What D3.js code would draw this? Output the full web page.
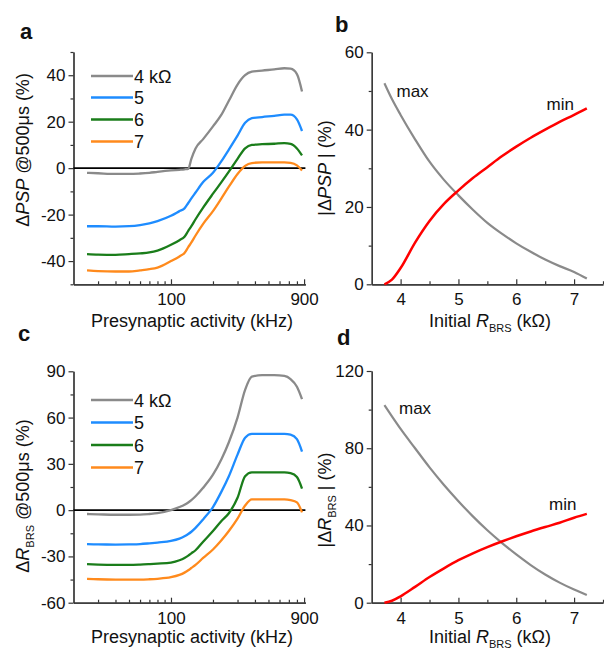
<!DOCTYPE html>
<html>
<head>
<meta charset="utf-8">
<script src="https://cdn.jsdelivr.net/npm/d3@7"></script>
<style>
body { margin: 0; background: #fff; }
svg { font-family: "Liberation Sans", Arial, sans-serif; }
</style>
</head>
<body>
<svg id="fig" width="604" height="650"></svg>
<script>
// presynaptic activity (kHz) for panels a and c
const freq = [25, 30, 40, 50, 60, 70, 80, 100, 115, 125, 133, 140, 150, 170, 200, 230, 260, 300, 340, 380, 450, 550, 650, 720, 800, 870];
const seriesNames = ['4 k\u03A9', '5', '6', '7'];
const seriesColors = ['#8a8a8a', '#1e8cff', '#1a7d1a', '#ff8a1c'];

// panel a: dPSP @500us (%)
const psp4 = [-2.0, -2.2, -2.5, -2.5, -2.3, -2.0, -1.6, -1.0, -0.7, -0.5, -0.3, 4, 8.5, 12.5, 18, 23, 29, 36, 40, 41.5, 42, 42.5, 43, 42.8, 40.5, 33];
const psp5 = [-25, -25, -25.2, -25, -24.5, -23.8, -22.8, -20.5, -18.5, -17.3, -15, -13, -10.5, -6, -2, 3, 8, 14, 19.5, 21.5, 22, 22.5, 23, 23, 21, 16];
const psp6 = [-37, -37.2, -37.3, -37, -36.7, -36.3, -35.5, -33, -31, -29.5, -27, -25, -22, -17, -11, -6, -1.5, 4, 8.5, 10, 10.3, 10.5, 10.8, 10.5, 8.5, 5.5];
const psp7 = [-44, -44.3, -44.5, -44.5, -44, -43.5, -42.8, -40, -38, -36.5, -34, -32, -29, -24, -18.5, -13, -8, -2.5, 1, 2.2, 2.5, 2.5, 2.5, 2.3, 1.2, -1];

// panel c: dR_BRS @500us (%)
const rbrs4 = [-2.5, -2.7, -3, -3, -2.9, -2.5, -2, 0, 2, 3.5, 5, 6.5, 9, 14.5, 23, 33, 44, 60, 78, 86.5, 87.5, 87.5, 87, 85, 80, 72];
const rbrs5 = [-22, -22.2, -22.3, -22.2, -22, -21.5, -21, -20, -18.5, -17, -15.5, -14, -11.5, -6, 2, 12, 22, 36, 47, 49.5, 49.5, 49.5, 49.5, 49, 46, 38];
const rbrs6 = [-35, -35.3, -35.5, -35.5, -35.3, -35, -34.7, -34, -32.5, -31, -29.5, -28, -26, -20.5, -13.5, -7, -2, 8, 22, 24.5, 24.5, 24.5, 24.5, 24, 21.5, 14];
const rbrs7 = [-44.5, -44.8, -45, -45, -45, -44.8, -44.5, -43.5, -42, -40.5, -39, -37.5, -35.5, -31, -25.5, -19.5, -13.5, -5.5, 3, 7, 7, 7, 7, 6.5, 5, -1.5];

// panels b and d: initial R_BRS (kOhm)
const rInit = [3.72, 3.85, 4.0, 4.25, 4.5, 4.75, 5.0, 5.25, 5.5, 5.75, 6.0, 6.25, 6.5, 6.75, 7.0, 7.22];
const pspMax = [52, 47.9, 43.8, 37.5, 31.7, 27, 23, 19.3, 15.9, 13.1, 10.6, 8.4, 6.4, 4.7, 3.2, 1.5];
const pspMin = [0, 1.2, 4.2, 10.8, 16.4, 20.8, 24.3, 27.5, 30.3, 33.1, 35.6, 37.9, 40, 42, 43.8, 45.5];
const rbrsMax = [102.3, 96.5, 90, 80, 70.1, 61, 52.6, 44.7, 37.5, 31, 25, 19.5, 14.6, 10.4, 6.8, 4];
const rbrsMin = [0, 1, 3.3, 8.2, 13.3, 17.8, 22, 25.6, 28.8, 31.7, 34.4, 36.9, 39.2, 41.4, 44, 46];

const freqMajor = [100, 900];
const freqMinor = [30, 40, 50, 60, 70, 80, 90, 200, 300, 400, 500, 600, 700, 800];

const svg = d3.select('#fig');
svg.append('rect').attr('width', 604).attr('height', 650).attr('fill', '#fff');

const axisColor = '#333';
const plainNum = d => String(d);   // keep an ASCII hyphen for negatives

function styleAxis(g) {
    g.selectAll('.domain, .tick line').attr('stroke', axisColor).attr('stroke-width', 1.2);
    g.selectAll('text').attr('fill', '#111').style('font-size', '17px')
        .style('font-family', '"Liberation Sans", Arial, sans-serif');
}

function drawYAxis(y, xPos, major, minor) {
    let gMinor = svg.append('g').attr('transform', `translate(${xPos},0)`)
        .call(d3.axisLeft(y).tickValues(minor).tickSize(3).tickSizeOuter(0).tickFormat(''));
    let gMajor = svg.append('g').attr('transform', `translate(${xPos},0)`)
        .call(d3.axisLeft(y).tickValues(major).tickSize(5).tickPadding(3).tickSizeOuter(0).tickFormat(plainNum));
    styleAxis(gMinor);
    styleAxis(gMajor);
}

function drawXAxis(x, yPos, major, minor) {
    let gMinor = svg.append('g').attr('transform', `translate(0,${yPos})`)
        .call(d3.axisBottom(x).tickValues(minor).tickSize(-3).tickSizeOuter(0).tickFormat(''));
    let gMajor = svg.append('g').attr('transform', `translate(0,${yPos})`)
        .call(d3.axisBottom(x).tickValues(major).tickSize(-5).tickPadding(9).tickSizeOuter(0).tickFormat(plainNum));
    styleAxis(gMinor);
    styleAxis(gMajor);
}

function panelLetter(txt, px, py) {
    svg.append('text').attr('x', px).attr('y', py).text(txt)
        .style('font-size', '22px').style('font-weight', 'bold').attr('fill', '#111');
}

function xTitle(cx, by, parts) {
    let t = svg.append('text').attr('x', cx).attr('y', by).attr('text-anchor', 'middle')
        .style('font-size', '18px').attr('fill', '#111');
    addParts(t, parts);
}

function yTitle(bx, cy, parts) {
    let t = svg.append('text').attr('transform', `translate(${bx},${cy}) rotate(-90)`)
        .attr('text-anchor', 'middle').style('font-size', '18px').attr('fill', '#111');
    addParts(t, parts);
}

// parts: [text, style] where style is '', 'i' (italic) or 'sub'
function addParts(t, parts) {
    let shifted = false;
    parts.forEach(([s, st]) => {
        let ts = t.append('tspan').text(s);
        if (st === 'i') ts.style('font-style', 'italic');
        if (st === 'sub') {
            ts.style('font-size', '11px').attr('dy', 5);
            shifted = true;
        } else if (shifted) {
            ts.attr('dy', -5);
            shifted = false;
        }
    });
}

// ---------- panels a and c (activity sweeps) ----------
function drawSweepPanel(opts) {
    let x = d3.scaleLog().domain([20, 920]).range([73.5, 305.4]);
    let y = d3.scaleLinear().domain(opts.yDomain).range(opts.yRange);

    drawYAxis(y, 73.5, opts.yMajor, opts.yMinor);
    drawXAxis(x, opts.yRange[0], freqMajor, freqMinor);

    svg.append('line')
        .attr('x1', x(20)).attr('x2', x(920))
        .attr('y1', y(0)).attr('y2', y(0))
        .attr('stroke', '#000').attr('stroke-width', 1.7);

    let line = d3.line()
        .x((d, i) => x(freq[i]))
        .y(d => y(d))
        .curve(d3.curveMonotoneX);

    opts.series.forEach((vals, k) => {
        svg.append('path').datum(vals)
            .attr('d', line)
            .attr('fill', 'none')
            .attr('stroke', seriesColors[k])
            .attr('stroke-width', 2.3);
    });

    // legend
    opts.legendRows.forEach((ly, k) => {
        svg.append('line').attr('x1', 91).attr('x2', 133).attr('y1', ly).attr('y2', ly)
            .attr('stroke', seriesColors[k]).attr('stroke-width', 2.3);
        svg.append('text').attr('x', 134).attr('y', ly + 6.5).text(seriesNames[k])
            .style('font-size', '18px').attr('fill', '#111');
    });
}

// ---------- panels b and d (max / min vs initial R) ----------
function drawSummaryPanel(opts) {
    let x = d3.scaleLinear().domain([3.5, 7.5]).range([371.7, 603]);
    let y = d3.scaleLinear().domain(opts.yDomain).range(opts.yRange);

    drawYAxis(y, 371.7, opts.yMajor, opts.yMinor);
    drawXAxis(x, opts.yRange[0], [4, 5, 6, 7], [4.5, 5.5, 6.5, 7.5]);

    let line = d3.line()
        .x((d, i) => x(rInit[i]))
        .y(d => y(d))
        .curve(d3.curveMonotoneX);

    svg.append('path').datum(opts.maxVals).attr('d', line)
        .attr('fill', 'none').attr('stroke', '#8a8a8a').attr('stroke-width', 2.2);
    svg.append('path').datum(opts.minVals).attr('d', line)
        .attr('fill', 'none').attr('stroke', '#f00').attr('stroke-width', 2.5);

    svg.append('text').attr('x', opts.maxLabel[0]).attr('y', opts.maxLabel[1]).text('max')
        .style('font-size', '17px').attr('fill', '#111');
    svg.append('text').attr('x', opts.minLabel[0]).attr('y', opts.minLabel[1]).text('min')
        .style('font-size', '17px').attr('fill', '#111');
}

drawSweepPanel({
    yDomain: [-50, 50], yRange: [284.3, 52],
    yMajor: [-40, -20, 0, 20, 40], yMinor: [-50, -30, -10, 10, 30, 50],
    series: [psp4, psp5, psp6, psp7],
    legendRows: [76, 97.5, 119.5, 141.5]
});

drawSweepPanel({
    yDomain: [-60, 90], yRange: [602.7, 371.3],
    yMajor: [-60, -30, 0, 30, 60, 90], yMinor: [-45, -15, 15, 45, 75],
    series: [rbrs4, rbrs5, rbrs6, rbrs7],
    legendRows: [400, 422.5, 445, 467.5]
});

drawSummaryPanel({
    yDomain: [0, 60], yRange: [284.3, 52.3],
    yMajor: [0, 20, 40, 60], yMinor: [10, 30, 50],
    maxVals: pspMax, minVals: pspMin,
    maxLabel: [396.5, 96.5], minLabel: [546.5, 110]
});

drawSummaryPanel({
    yDomain: [0, 120], yRange: [602.7, 371],
    yMajor: [0, 40, 80, 120], yMinor: [20, 60, 100],
    maxVals: rbrsMax, minVals: rbrsMin,
    maxLabel: [399, 414], minLabel: [549, 510]
});

// titles
panelLetter('a', 20, 39);
panelLetter('b', 335, 32);
panelLetter('c', 18, 341);
panelLetter('d', 337, 345);

xTitle(192, 327, [['Presynaptic activity (kHz)', '']]);
xTitle(192, 643, [['Presynaptic activity (kHz)', '']]);
xTitle(490, 327, [['Initial ', ''], ['R', 'i'], ['BRS', 'sub'], [' (k\u03A9)', '']]);
xTitle(490, 643, [['Initial ', ''], ['R', 'i'], ['BRS', 'sub'], [' (k\u03A9)', '']]);

yTitle(29, 150, [['\u0394', ''], ['PSP', 'i'], [' @500\u03BCs (%)', '']]);
yTitle(29, 496, [['\u0394', ''], ['R', 'i'], ['BRS', 'sub'], [' @500\u03BCs (%)', '']]);
yTitle(331, 168, [['|\u0394', ''], ['PSP', 'i'], [' | (%)', '']]);
yTitle(331, 500, [['|\u0394', ''], ['R', 'i'], ['BRS', 'sub'], [' | (%)', '']]);
</script>
</body>
</html>
